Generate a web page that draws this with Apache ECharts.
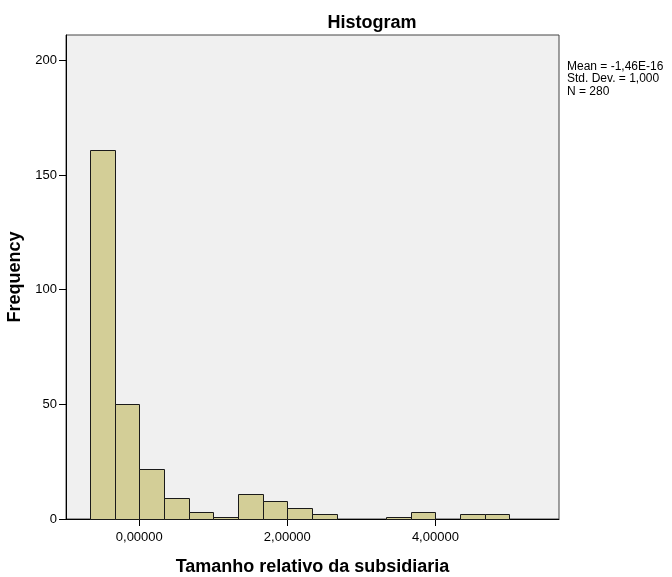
<!DOCTYPE html>
<html>
<head>
<meta charset="utf-8">
<script src="https://cdn.jsdelivr.net/npm/echarts@6/dist/echarts.min.js"></script>
<style>html,body{margin:0;padding:0;background:#fff;}#c{width:672px;height:577px;}</style>
</head>
<body>
<div id="c"></div>
<script>
var binStart = [-0.667, -0.333, 0.000, 0.333, 0.667, 1.000, 1.333, 1.667, 2.000, 2.333, 2.667, 3.000, 3.333, 3.667, 4.000, 4.333, 4.667];
var binEnd   = [-0.333, 0.000, 0.333, 0.667, 1.000, 1.333, 1.667, 2.000, 2.333, 2.667, 3.000, 3.333, 3.667, 4.000, 4.333, 4.667, 5.000];
var counts   = [161, 50, 22, 9, 3, 1, 11, 8, 5, 2, 0, 0, 1, 3, 0, 2, 2];
var xTicks = [0, 2, 4];
var yTicks = [0, 50, 100, 150, 200];
var statsLines = ['Mean = -1,46E-16', 'Std. Dev. = 1,000', 'N = 280'];

var data = [];
for (var i = 0; i < counts.length; i++) {
  if (counts[i] > 0) data.push([binStart[i], binEnd[i], counts[i]]);
}

var chart = echarts.init(document.getElementById('c'), null, {renderer: 'canvas'});
var font = '"Liberation Sans", Arial, sans-serif';
chart.setOption({
  animation: false,
  backgroundColor: '#ffffff',
  title: {
    text: 'Histogram',
    left: 367, top: 9, textAlign: 'center',
    textStyle: {fontFamily: font, fontSize: 18, fontWeight: 'bold', color: '#000'}
  },
  grid: {
    left: 66, top: 35, right: 113, bottom: 58,
    containLabel: false, outerBoundsMode: 'none',
    show: true, backgroundColor: '#f0f0f0', borderColor: '#444', borderWidth: 1
  },
  xAxis: {
    type: 'value', min: -0.99, max: 5.67,
    name: 'Tamanho relativo da subsidiaria',
    nameLocation: 'middle', nameGap: 39,
    nameTextStyle: {fontFamily: font, fontSize: 18, fontWeight: 'bold', color: '#000'},
    axisLine: {show: true, onZero: false, lineStyle: {color: '#000', width: 1}},
    axisTick: {show: true, inside: false, length: 7, customValues: xTicks, lineStyle: {color: '#000', width: 1}},
    axisLabel: {
      customValues: xTicks, margin: 12,
      fontFamily: font, fontSize: 13, color: '#000',
      formatter: function (v) { return v.toFixed(5).replace('.', ','); }
    },
    splitLine: {show: false}
  },
  yAxis: {
    type: 'value', min: 0, max: 211,
    name: 'Frequency', nameLocation: 'middle', nameGap: 35,
    nameTextStyle: {fontFamily: font, fontSize: 18, fontWeight: 'bold', color: '#000'},
    axisLine: {show: true, onZero: false, lineStyle: {color: '#000', width: 1}},
    axisTick: {show: true, inside: false, length: 7, customValues: yTicks, lineStyle: {color: '#000', width: 1}},
    axisLabel: {customValues: yTicks, margin: 9, fontFamily: font, fontSize: 13, color: '#000'},
    splitLine: {show: false}
  },
  graphic: [{
    type: 'text', left: 567, top: 60,
    style: {text: statsLines.join('\n'), font: '12px ' + font, fill: '#000', lineHeight: 12.5}
  }],
  series: [{
    type: 'custom',
    encode: {x: [0, 1], y: 2},
    data: data,
    renderItem: function (params, api) {
      var p0 = api.coord([api.value(0), api.value(2)]);
      var p1 = api.coord([api.value(1), 0]);
      var x0 = Math.round(p0[0]) + 0.5, x1 = Math.round(p1[0]) + 0.5;
      var y0 = Math.round(p0[1]) + 0.5, y1 = Math.round(p1[1]) + 0.5;
      return {
        type: 'rect',
        shape: {x: x0, y: y0, width: x1 - x0, height: y1 - y0},
        style: {fill: '#d3ce97', stroke: '#1a1a1a', lineWidth: 1}
      };
    }
  }]
});
</script>
</body>
</html>
